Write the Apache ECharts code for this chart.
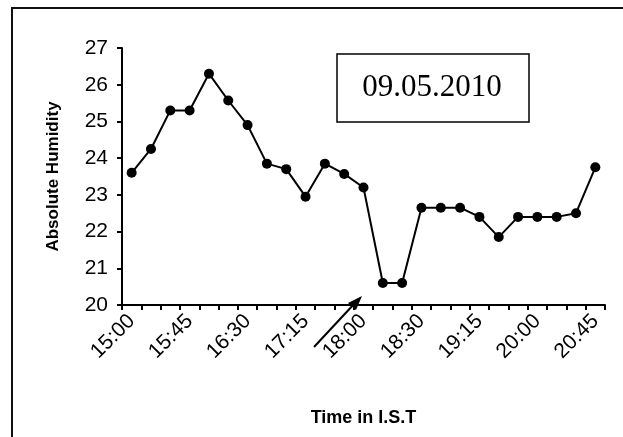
<!DOCTYPE html>
<html>
<head>
<meta charset="utf-8">
<script src="https://cdn.jsdelivr.net/npm/echarts@6/dist/echarts.min.js"></script>
<style>
  html, body { margin: 0; padding: 0; background: #fff; }
  #chart { width: 623px; height: 437px; }
</style>
</head>
<body>
<div id="chart"></div>
<script>
// times of the readings (I.S.T)
var times = ["15:00", "15:15", "15:30", "15:45", "16:00", "16:15", "16:30", "16:45",
             "17:00", "17:15", "17:30", "17:45", "18:00", "18:10", "18:20", "18:30",
             "18:45", "19:00", "19:15", "19:30", "19:45", "20:00", "20:15", "20:30", "20:45"];
// absolute humidity readings
var humidity = [23.6, 24.25, 25.3, 25.3, 26.3, 25.57, 24.9, 23.85, 23.7, 22.95,
                23.85, 23.57, 23.2, 20.6, 20.6, 22.65, 22.65, 22.65, 22.4, 21.85,
                22.4, 22.4, 22.4, 22.5, 23.75];
var yTicks = { min: 20, max: 27, step: 1 };
var dateText = "09.05.2010";

var chart = echarts.init(document.getElementById("chart"));

var option = {
    animation: false,
    backgroundColor: "#fff",
    grid: { left: 122, right: 18, top: 48, bottom: 132 },
    xAxis: {
        type: "category",
        data: times,
        boundaryGap: true,
        name: "Time in I.S.T",
        nameLocation: "middle",
        nameGap: 104,
        nameTextStyle: { fontFamily: "Liberation Sans", fontWeight: "bold", fontSize: 18, color: "#000" },
        axisLine: { lineStyle: { color: "#000", width: 2 } },
        axisTick: { show: true, interval: 0, length: 5, lineStyle: { color: "#000", width: 2 } },
        axisLabel: {
            interval: 2,
            rotate: 45,
            margin: 13,
            fontFamily: "Liberation Sans",
            fontSize: 21,
            color: "#000"
        },
        splitLine: { show: false }
    },
    yAxis: {
        type: "value",
        min: yTicks.min,
        max: yTicks.max,
        interval: yTicks.step,
        name: "Absolute Humidity",
        nameLocation: "middle",
        nameGap: 60,
        nameTextStyle: { fontFamily: "Liberation Sans", fontWeight: "bold", fontSize: 17, color: "#000" },
        axisLine: { show: true, lineStyle: { color: "#000", width: 2 } },
        axisTick: { show: true, length: 5, lineStyle: { color: "#000", width: 2 } },
        axisLabel: { margin: 14, fontFamily: "Liberation Sans", fontSize: 21, color: "#000" },
        splitLine: { show: false }
    },
    series: [{
        type: "line",
        data: humidity,
        symbol: "circle",
        symbolSize: 10,
        itemStyle: { color: "#000" },
        lineStyle: { color: "#000", width: 2 }
    }],
    graphic: [
        // outer frame, runs off the right and bottom edges
        {
            type: "rect",
            shape: { x: 12, y: 8, width: 700, height: 500 },
            style: { fill: null, stroke: "#111", lineWidth: 2 }
        },
        // date box
        {
            type: "rect",
            shape: { x: 337, y: 54, width: 192, height: 68 },
            style: { fill: "#fff", stroke: "#000", lineWidth: 1.5 }
        },
        {
            type: "text",
            x: 432,
            y: 88,
            style: {
                text: dateText,
                font: "31px 'Liberation Serif'",
                fill: "#000",
                align: "center",
                verticalAlign: "middle"
            }
        },
        // arrow pointing at the dip
        {
            type: "line",
            shape: { x1: 314, y1: 347, x2: 355, y2: 303 },
            style: { stroke: "#000", lineWidth: 2 }
        },
        {
            type: "polygon",
            shape: { points: [[362, 296], [356, 310], [348, 303]] },
            style: { fill: "#000" }
        }
    ]
};

chart.setOption(option);
</script>
</body>
</html>
